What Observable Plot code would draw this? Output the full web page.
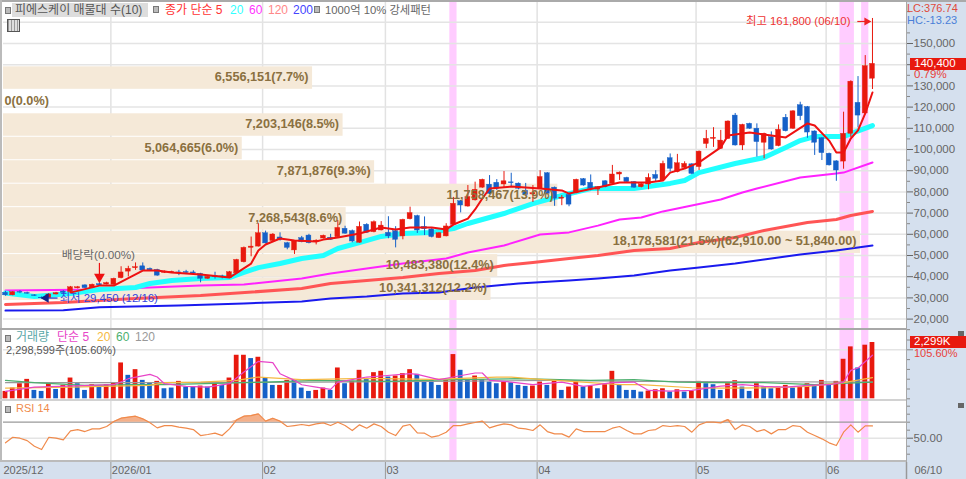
<!DOCTYPE html>
<html lang="ko">
<head>
<meta charset="utf-8">
<script src="https://cdn.jsdelivr.net/npm/d3@7"></script>
<script src="https://cdn.jsdelivr.net/npm/@observablehq/plot@0.6"></script>
<style>
html,body{margin:0;padding:0;background:#fff}
#chart{position:relative;width:966px;height:479px;overflow:hidden;font-family:"Liberation Sans","Noto Sans CJK KR",sans-serif;background:#fff}
#chart svg{position:absolute;left:0;top:0;background:transparent}
.t{position:absolute;white-space:nowrap;line-height:11px;font-size:12px}
.sq{position:absolute;width:4px;height:5px;background:#bbb;border:1px solid #777}
.d{position:absolute}
</style>
</head>
<body>
<div id="chart"></div>
<script>
// ---------- price panel, thousands of won ----------
const candleColor = "brbbbbrrbr"+"rbrbrrrrrb"+"bbrrbbbbrb"+"brrrrrbrbb"+"rbbrrbrbbr"+"brrbbrrbbb"+"rrrbrrrbbr"+"bbbrrbbrbr"+"bbrbrrbbrr"+"brbrrbrrrr"+"rbrbbrbrbr"+"bbbbbbrrbr"+"r";
const bodyHi = [32.4,32.7,32.8,32.3,31.2,30.1,31.6,32.2,33,35,35,35.9,36.2,36.5,37,39,42,43.7,44.5,44.9,43.7,43.2,42.4,42.3,42,42.2,42,41.3,39.9,40.2,40.1,42.1,47.9,53.6,54.2,60.5,60.5,59.9,58.5,55.8,56.6,58.2,59.4,57,59.3,58.4,63,62.6,61.5,63.5,64.5,65.7,64.1,60.7,61.5,66.8,70,68.6,63.5,62.3,60.5,63.7,74.4,75.6,77.5,81,85.7,83.4,84.3,85,84.5,83.9,80.5,79.4,87,88.8,82,77.3,78.6,85.7,86,84.3,82.2,85,88.2,89.1,86.6,84.6,83.6,86.6,88,93.2,95.9,93.5,93.2,93,99,105,105.5,104.2,113.2,116,111.6,112.1,109.8,107.4,105.8,109.3,115,118,120.9,120,108.5,105.3,98,94.4,107.4,132,122,139.3,140.4];
const bodyLo = [31.2,31.2,32.5,32,30.9,29.8,30,31.6,32.4,32.7,34.5,34.6,34.6,35.9,36.3,36.2,39.3,42.4,44,42.9,43,40.5,41.8,41.9,41.6,41.8,41.6,39,39,39.8,39.7,39.3,41.6,46.8,53.6,54.2,55.7,56.8,57.4,53.6,52.4,56.3,55.8,56.3,58,57.4,58.6,60.3,56.6,56,60.7,61,61.8,59,57.4,59,67.1,61.8,62.4,58.7,58.2,59,64.5,73.6,73.1,76,82,79.1,81.5,83.5,84.1,81.5,78.5,78.8,81.5,79,76.8,76.8,74,79.4,83,81.5,81.1,82.2,83.8,88.2,84.6,82,82.2,83.5,86.2,85.4,90.9,89.3,91.3,88.5,91.7,102.6,105,100.3,105,101.9,101.9,109.8,103.5,103.2,100,101.6,108.6,109.8,115.7,108,103.2,98.3,92.5,90.1,94.3,107.4,116,117,133.4];
const wickHi = [33,33,33.4,32.7,31.5,30.5,32,32.6,33.4,35.4,35.4,36.2,36.5,37,37.4,39.3,44.7,44.9,46.5,46.5,44.1,43.5,42.7,42.6,43,43,42.8,41.6,40.6,42.1,40.7,42.5,48.2,54,58.7,65,61.5,60.3,60.7,56.2,57,59,60,57.4,59.6,60,66.5,63.8,62,65.8,65,66.3,66,68.3,63.6,67.1,72.8,69,68.2,62.7,60.8,65,77.4,76,83,84.6,86,87.7,85.8,89.6,88.8,84.2,84,83,90,89.1,82.3,78.3,78.9,86,86.3,88,82.5,85.3,92.5,89.4,86.9,84.9,83.9,88.5,90,94.5,97.9,97.7,94.2,93.3,99.3,109,110.3,109,113.5,117,111.9,112.4,112.1,107.7,108.3,111.6,116.5,118.3,122.3,120.3,108.8,105.6,98.3,94.7,117.6,132.4,134.4,144.3,161.8];
const wickLo = [30.8,31,32,31.7,30.7,29.45,29.8,31.4,32,32.5,34.2,34.4,34.4,35.6,36.1,36,39,39.9,43,42.7,42.8,40.2,41.5,41.6,40.5,41,40.8,37.1,38.8,38.9,39,39.1,41.3,46.5,49.4,54,55.5,56.5,56.8,52.7,50.5,56,55.5,55,57.8,57.2,58.3,60,56,55.8,60.5,60.7,61.6,57.9,53.6,57.4,66.8,60.4,59.4,58.3,58,58.8,64.2,70.1,72.8,75.7,81.7,78.8,80.7,81.6,82.2,81,78,75,81.2,78.7,73.2,73.5,73,79.1,82.7,80.5,78.3,81.9,83.5,85.4,84.3,81.7,81.9,81,84.6,85.1,89.3,89,91,88.2,90.1,100.4,101,100,104.7,101.6,99.5,109.5,96.4,95.6,99.7,101.3,108.3,109.5,113.6,105.3,97.2,94.8,92.2,85,90.7,105.7,110.2,116.7,128.3];

const ma5Idx = [9,13,15,19,21,23,27,31,34,35,36,38,40,43,44,46,49,52,54,56,59,61,62,64,65,66,67,70,74,77,78,82,85,89,91,92,94,96,99,100,103,106,108,111,112,114,115,116,117,118,119,120];
const ma5Val = [32.5,35.8,35.8,42.9,42.9,42,41,39.6,46.2,52.4,55.2,58,57.1,56.6,57.5,58.5,60.4,63.2,62.3,63.2,63.2,62.3,64.6,67.4,71.7,76.9,81.6,82.5,81.6,80.7,79.2,82.1,84.4,84.4,85.4,89.1,91,93.9,101,106.6,108,106.6,105.7,112.3,111.3,104.2,98.6,98.6,105.2,109,117,126.9];
const ma20Idx = [0,4,9,13,18,20,23,27,31,33,35,38,41,44,46,49,52,55,59,62,64,69,73,77,81,87,92,94,96,101,105,108,110,112,116,117,120];
const ma20Val = [32.3,30.7,32.1,34,34.9,36.8,38.2,39.1,39.6,42,44.3,46.2,48.6,50,53.3,56.1,59,60.4,60.9,62.7,65.1,69.8,74.5,78.3,81.6,81.6,84,85.4,89.1,93.4,96.2,100.9,104.2,106.1,106.1,107.5,111.3];
const ma60Idx = [0,13,27,33,41,45,50,55,61,64,69,74,78,82,85,88,91,95,99,102,104,110,115,116,120];
const ma60Val = [33.5,34,35.8,36.3,39.1,41.5,43.9,46.2,48.6,51.4,54.7,59.9,60.9,64.1,67,67.9,70.8,73.6,76.4,79.7,81.6,86.8,88.7,89.1,93.9];
const ma120Idx = [0,8,18,27,41,45,50,55,60,65,69,73,78,82,87,92,96,101,105,111,115,117,120];
const ma120Val = [26.9,27.8,29.7,31.1,34.4,36.8,38.2,39.6,41.5,42.9,45.3,46.7,48.6,50,52.4,53.3,56.1,58.5,61.8,65.6,67,68.9,70.8];
const ma200Idx = [0,8,13,24,33,41,45,50,55,60,65,71,78,82,87,92,96,101,105,110,115,120];
const ma200Val = [24,24.2,25.6,26.4,27.4,28.3,29.7,30.7,32.1,32.5,34.9,36.8,38.2,39.1,40.6,42.9,44.3,46.2,48.1,50.5,52.4,54.7];

const strongSpans = [[62,62],[116,117],[119,119]];
const monthIdx = [0,15,36,53,74,96,114];
const monthLabel = ["2025/12","2026/01","02","03","04","05","06"];
const priceTicks = [20,30,40,50,60,70,80,90,100,110,120,130,150];
const priceGrid = [20,30,40,50,60,70,80,90,100,110,120,130,140,150,160];
const priceMinor = [15,25,35,45,55,65,75,85,95,105,115,125,135,145,155,165];

// ---------- volume profile ----------
const bandTop = [140.4,129.33,118.26,107.19,96.12,85.05,73.98,62.91,51.84,40.77];
const bandBottom = [129.33,118.26,107.19,96.12,85.05,73.98,62.91,51.84,40.77,29.7];
const bandVol = [6556151,0,7203146,5064665,7871876,11758467,7268543,18178581,10483380,10341312];
const bandLabel = ["6,556,151(7.7%)","0(0.0%)","7,203,146(8.5%)","5,064,665(6.0%)","7,871,876(9.3%)","11,758,467(13.9%)","7,268,543(8.6%)","18,178,581(21.5%)(62,910.00 ~ 51,840.00)","10,483,380(12.4%)","10,341,312(12.2%)"];

// ---------- volume panel, thousands of shares ----------
const volColor = "rrrrbbrbrr"+"bbrbrrrbrb"+"brbbrbbrbr"+"brrrbrbbrr"+"bbbrrbrbrr"+"brrbrrrbbb"+"brrbbrbbbr"+"bbbrrbrbrr"+"brbrrbbbbr"+"rrbrbrrbbb"+"rrbbrbbrrb"+"rrbrbrrrbr"+"r";
const volume = [301,438,616,793,342,301,657,383,547,848,616,342,575,506,575,657,1464,958,1190,752,657,711,410,438,711,479,479,520,479,657,547,848,1778,1778,1642,1696,848,547,547,752,752,438,301,342,438,342,1259,616,711,1163,793,1067,1122,889,930,1026,1190,999,752,752,547,752,1806,1163,752,930,780,684,616,684,657,547,506,520,684,547,711,342,479,684,479,506,410,575,1122,575,342,342,274,315,369,410,274,369,274,315,711,616,575,342,616,739,479,301,616,479,410,479,547,438,479,616,575,752,547,711,1614,2120,1259,2189,2299];
const volMa5Idx = [0,4,15,17,20,21,22,25,28,31,33,35,37,38,40,41,43,45,46,50,52,56,57,60,62,65,66,67,70,73,77,80,84,87,89,92,95,96,99,102,105,108,111,114,116,117,118,120];
const volMa5Val = [301,479,575,821,999,889,616,506,479,616,1094,1532,1477,1026,752,575,479,383,684,889,930,1026,999,780,889,1053,1053,752,684,575,684,506,657,684,342,315,342,383,520,575,506,479,547,575,684,1163,1259,1778];
const volMa20Idx = [0,9,15,20,22,27,32,35,41,43,48,52,59,62,68,70,74,81,85,88,95,99,106,111,116,120];
const volMa20Val = [438,479,520,547,657,684,752,889,780,793,821,821,793,821,889,889,793,657,575,575,451,438,451,506,657,862];
const volMa60Idx = [0,4,11,18,22,36,43,53,62,71,81,87,93,98,105,112,120];
const volMa60Val = [752,657,547,575,575,684,752,711,780,821,752,780,684,657,657,575,684];
const volMa120Idx = [0,20,43,59,76,87,120];
const volMa120Val = [657,657,684,711,752,711,684];
const volMinor = [0,400,800,1200,1600,2400];

// ---------- RSI ----------
const rsi = [44.2,51.2,50,47,40,35.8,51.2,50,48,59.2,60.8,58.3,61.7,61.7,64.6,70.8,75,76.3,77.5,74.2,69.2,62.9,65.8,65.8,63.8,62.5,60.8,53.3,54.6,56.3,53.3,61.7,72.9,77.5,78.3,80.4,71.3,75,71.3,64.6,65.8,67.1,65.8,67.9,69.2,65.8,70,65.8,59.6,66.7,62.5,67.9,64.6,57.5,53.3,65,67.1,56.7,56.3,51.3,53.3,57.5,65.8,65.8,67.9,69.6,71.3,62.9,65.8,67.9,66.7,62.5,61.7,59.6,66.7,58.3,55.4,55.4,51.3,61.7,58.3,58.3,58.3,58.3,62.5,64.6,59.6,55.4,55.4,59.6,60.8,65.8,64.6,65.8,64.6,57.5,66.7,70,70,69.2,73.3,60.8,66.7,64.6,58.3,60.8,55.4,60.8,60.8,65.8,64.6,57.5,53.3,49.2,44.2,40.8,57.5,66.7,57.5,65.4,65.4];
const rsiMinor = [30,40,60,70,80,90];

// ---------- palette and shared options ----------
const RED="#e8190e", BLUE="#1560c8", FONT='"Liberation Sans","Noto Sans CJK KR",sans-serif';
const W=966, H=479;
const row = (idx,val)=>idx.map((x,k)=>({x,v:val[k]}));
const base = {width:W,height:H,marginLeft:3,marginRight:60,marginTop:0,marginBottom:17,style:{fontFamily:FONT,background:"transparent",overflow:"visible"}};
const xScale = {domain:[-0.277,124.71],axis:null};
const priceY = {domain:[20,150],range:[318.6,43],axis:null};
const volY = {domain:[0,2299],range:[398.3,342],axis:null};
const rsiY = {domain:[50,70],range:[437.7,421.7],axis:null};
const profileOpts = {...base,marginRight:106,x:{domain:[0,18178581],axis:null},y:priceY};

const candles = bodyHi.map((h,i)=>({i,hi:h,lo:bodyLo[i],wh:wickHi[i],wl:wickLo[i],c:candleColor[i]=="r"?RED:BLUE}));
const vols = volume.map((v,i)=>({i,v,c:volColor[i]=="r"?RED:BLUE}));
const rsiRows = rsi.map((v,i)=>({i,v}));
const bands = bandVol.map((v,k)=>({v,top:bandTop[k],bottom:bandBottom[k],label:bandLabel[k],mid:(bandTop[k]+bandBottom[k])/2}));

const root = document.getElementById("chart");
function div(cls,css,text){const e=document.createElement("div");e.className=cls;e.style.cssText=css;if(text)e.textContent=text;root.appendChild(e);return e;}

// chrome under the plots
div("d","left:906px;top:0;width:60px;height:479px;background:#d5e0ee");
div("d","left:0;top:462px;width:966px;height:17px;background:#d5e0ee");

// grid, bands and axes
root.appendChild(Plot.plot({...base,x:xScale,y:{...priceY},marks:[
  Plot.rect(strongSpans,{x1:d=>d[0]-.5,x2:d=>d[1]+.5,fill:"#ffccff"}),
  Plot.ruleX(monthIdx.slice(1),{stroke:"#e2e2e2",strokeWidth:1.5,dx:-3}),
  Plot.ruleY(priceGrid,{stroke:"#e4e4e4",strokeWidth:1.5}),
  Plot.axisY({anchor:"right",ticks:priceTicks,tickFormat:d=>d3.format(",")(d*1000),tickSize:6,tickPadding:1,fontSize:11.5,color:"#666",label:null}),
  Plot.axisY({anchor:"right",ticks:[140],tickFormat:()=>"",tickSize:6,color:"#666",label:null}),
  Plot.axisY({anchor:"right",ticks:priceMinor,tickFormat:()=>"",tickSize:3,color:"#888",label:null})
]}));

// volume profile bars
root.appendChild(Plot.plot({...profileOpts,marks:[
  Plot.rectX(bands.filter(d=>d.v>0),{x1:0,x2:"v",y1:"top",y2:"bottom",fill:"#f5e9d8",insetTop:1.5,insetBottom:-.5,dy:1.5})
]}));

// moving averages and candles
const line=(idx,val,stroke,strokeWidth)=>Plot.line(row(idx,val),{x:"x",y:"v",stroke,strokeWidth,strokeLinejoin:"round",strokeLinecap:"round"});
root.appendChild(Plot.plot({...base,x:xScale,y:priceY,marks:[
  line(ma200Idx,ma200Val,"#1a1aee",2),
  line(ma120Idx,ma120Val,"#ff5555",3),
  line(ma60Idx,ma60Val,"#ff22ff",2),
  line(ma20Idx,ma20Val,"#22ffff",5),
  Plot.ruleX(candles,{x:"i",y1:"wl",y2:"wh",stroke:"c",strokeWidth:1}),
  Plot.rect(candles,{x1:d=>d.i-.34,x2:d=>d.i+.34,y1:"lo",y2:"hi",fill:"c",stroke:"c",strokeWidth:.4}),
  line(ma5Idx,ma5Val,"#ee1111",2),
  // annotations
  Plot.text(["최고 161,800 (06/10)"],{x:[120],y:[161.8],text:d=>d,textAnchor:"end",dx:-22,dy:3,fill:"#ee3333",fontSize:11.4}),
  Plot.link([0],{x1:[117.9],x2:[119.1],y1:[161.8],y2:[161.8],stroke:"#ee2222",strokeWidth:1.2,dy:3}),
  Plot.dot([0],{x:[119.2],y:[161.8],symbol:"triangle",rotate:90,r:3,fill:"#ee2222",dy:3}),
  Plot.text(["최저 29,450 (12/16)"],{x:[5],y:[29.45],text:d=>d,textAnchor:"start",dx:18,dy:-1,fill:"#3344dd",fontSize:11.4}),
  Plot.link([0],{x1:[5.9],x2:[7.2],y1:[29.45],y2:[29.45],stroke:"#2233cc",strokeWidth:1.2,dy:-1}),
  Plot.dot([0],{x:[5.6],y:[29.45],symbol:"triangle",rotate:-90,r:3.5,fill:"#112288",dy:-1}),
  Plot.text(["배당락(0.00%)"],{x:[13],y:[50],text:d=>d,fill:"#666",fontSize:11.7,dx:-1}),
  Plot.link([0],{x1:[13],x2:[13],y1:[46.5],y2:[40.5],stroke:"#ee1111",strokeWidth:1.2}),
  Plot.dot([0],{x:[13],y:[39.9],symbol:"triangle",rotate:180,r:4,fill:"#ee1111"})
]}));

// profile labels on top
root.appendChild(Plot.plot({...profileOpts,marks:[
  Plot.text(bands.filter(d=>d.v>0),{x:"v",y:"mid",text:"label",textAnchor:"end",dx:-4,dy:1.5,fill:"#8a7040",fontSize:12.7,fontWeight:600}),
  Plot.text(bands.filter(d=>d.v==0),{x:"v",y:"mid",text:"label",textAnchor:"start",dx:1,dy:1.5,fill:"#8a7040",fontSize:12.7,fontWeight:600})
]}));

// volume panel
const vline=(idx,val,stroke)=>Plot.line(row(idx,val),{x:"x",y:"v",stroke,strokeWidth:1.2});
root.appendChild(Plot.plot({...base,x:xScale,y:volY,marks:[
  Plot.ruleY([2000],{stroke:"#e4e4e4",strokeWidth:1.5}),
  Plot.rect(vols,{x1:d=>d.i-.33,x2:d=>d.i+.33,y1:0,y2:"v",fill:"c"}),
  vline(volMa120Idx,volMa120Val,"#999"),
  vline(volMa60Idx,volMa60Val,"#4caf6e"),
  vline(volMa20Idx,volMa20Val,"#f5b942"),
  vline(volMa5Idx,volMa5Val,"#e845c8"),
  Plot.axisY({anchor:"right",ticks:[2000],tickFormat:()=>"",tickSize:6,color:"#888",label:null}),
  Plot.axisY({anchor:"right",ticks:volMinor,tickFormat:()=>"",tickSize:3,color:"#888",label:null})
]}));

// RSI panel
root.appendChild(Plot.plot({...base,x:xScale,y:rsiY,marks:[
  Plot.ruleY([50],{stroke:"#e4e4e4",strokeWidth:1.5}),
  Plot.ruleY([70],{stroke:"#9a9a9a",strokeWidth:1.2}),
  Plot.areaY(rsiRows,{x:"i",y1:70,y2:d=>Math.max(d.v,70),fill:"#f4b08a"}),
  Plot.line(rsiRows,{x:"i",y:"v",stroke:"#f08a4b",strokeWidth:1.2}),
  Plot.axisY({anchor:"right",ticks:[50],tickFormat:d=>d.toFixed(2),tickSize:6,tickPadding:1,fontSize:11.5,color:"#666",label:null}),
  Plot.axisY({anchor:"right",ticks:rsiMinor,tickFormat:()=>"",tickSize:3,color:"#888",label:null})
]}));

// month labels
root.appendChild(Plot.plot({...base,marginBottom:0,x:xScale,y:{domain:[0,1],range:[479,462],axis:null},marks:[
  Plot.ruleX(monthIdx.slice(1),{y1:0,y2:1,stroke:"#999",strokeWidth:1,dx:-3}),
  Plot.ruleX([124.71],{y1:0,y2:1,stroke:"#999",strokeWidth:1.5}),
  Plot.text(monthLabel,{x:monthIdx,y:[.5,.5,.5,.5,.5,.5,.5],text:d=>d,textAnchor:"start",dx:-2,dy:-.5,fill:"#666",fontSize:11}),
  Plot.text(["06/10"],{x:[124.71],y:[.5],text:d=>d,textAnchor:"start",dx:8,dy:-.5,fill:"#666",fontSize:11})
]}));

// frame lines
div("d","left:0;top:0;width:966px;height:1.5px;background:#aaa");
div("d","left:0;top:0;width:1.5px;height:462px;background:#bbb");
div("d","left:0;top:328px;width:906px;height:1.5px;background:#a8a8a8");
div("d","left:0;top:398.5px;width:906px;height:2px;background:#d2d2d2");
div("d","left:0;top:460px;width:906px;height:2px;background:#bbb");
div("d","left:905.5px;top:0;width:1.5px;height:462px;background:#a8a8a8");

// legends and value labels
const legendTop = [["종가 단순 5",165,"#ff3333"],["20",230,"#33ffff"],["60",249,"#ff33ff"],["120",268,"#ff8888"],["200",293,"#4444ff"]];
div("d","left:12px;top:3px;width:136px;height:14px;background:#ddd");
[[5,7],[153,6],[314,6]].forEach(p=>div("sq",`left:${p[0]}px;top:${p[1]}px`));
div("t","left:15px;top:5px;color:#555;font-size:12px","피에스케이 매물대 수(10)");
legendTop.forEach(d=>div("t",`left:${d[1]}px;top:5px;color:${d[2]}`,d[0]));
div("t","left:325px;top:5px;color:#666;font-size:11.3px","1000억 10% 강세패턴");
div("d","left:7px;top:19px;width:11px;height:11px;background:repeating-linear-gradient(90deg,#999 0 1px,#ddd 1px 3px);border:1px solid #555");

const legendVol = [["거래량",16,"#5ba8a8"],["단순 5",57,"#e845c8"],["20",97,"#f5b942"],["60",116,"#4caf6e"],["120",135,"#999"]];
div("sq","left:5px;top:335px");
legendVol.forEach(d=>div("t",`left:${d[1]}px;top:332px;color:${d[2]}`,d[0]));
div("t","left:6px;top:345px;color:#555;font-size:11px","2,298,599주(105.60%)");
div("sq","left:5px;top:406px");
div("t","left:16px;top:403px;color:#f08a4b;font-size:11px","RSI 14");

div("t","left:907px;top:3px;color:#e04a3a;font-size:11px","LC:376.74");
div("t","left:907px;top:15px;color:#4a7fd8;font-size:11px","HC:-13.23");
div("d","left:910px;top:58px;width:56px;height:12px;background:#e8190e");
div("t","left:914px;top:58px;color:#fff;font-size:11.5px","140,400");
div("t","left:914px;top:69px;color:#e8403a;font-size:11.5px","0.79%");
div("d","left:910px;top:336px;width:56px;height:12px;background:#e8190e");
div("t","left:914px;top:336px;color:#fff;font-size:11.5px","2,299K");
div("t","left:914px;top:348px;color:#e8403a;font-size:11px","105.60%");
[331,403].forEach(t=>div("d",`left:958px;top:${t}px;width:6px;height:5px;background:#666`));
</script>
</body>
</html>
